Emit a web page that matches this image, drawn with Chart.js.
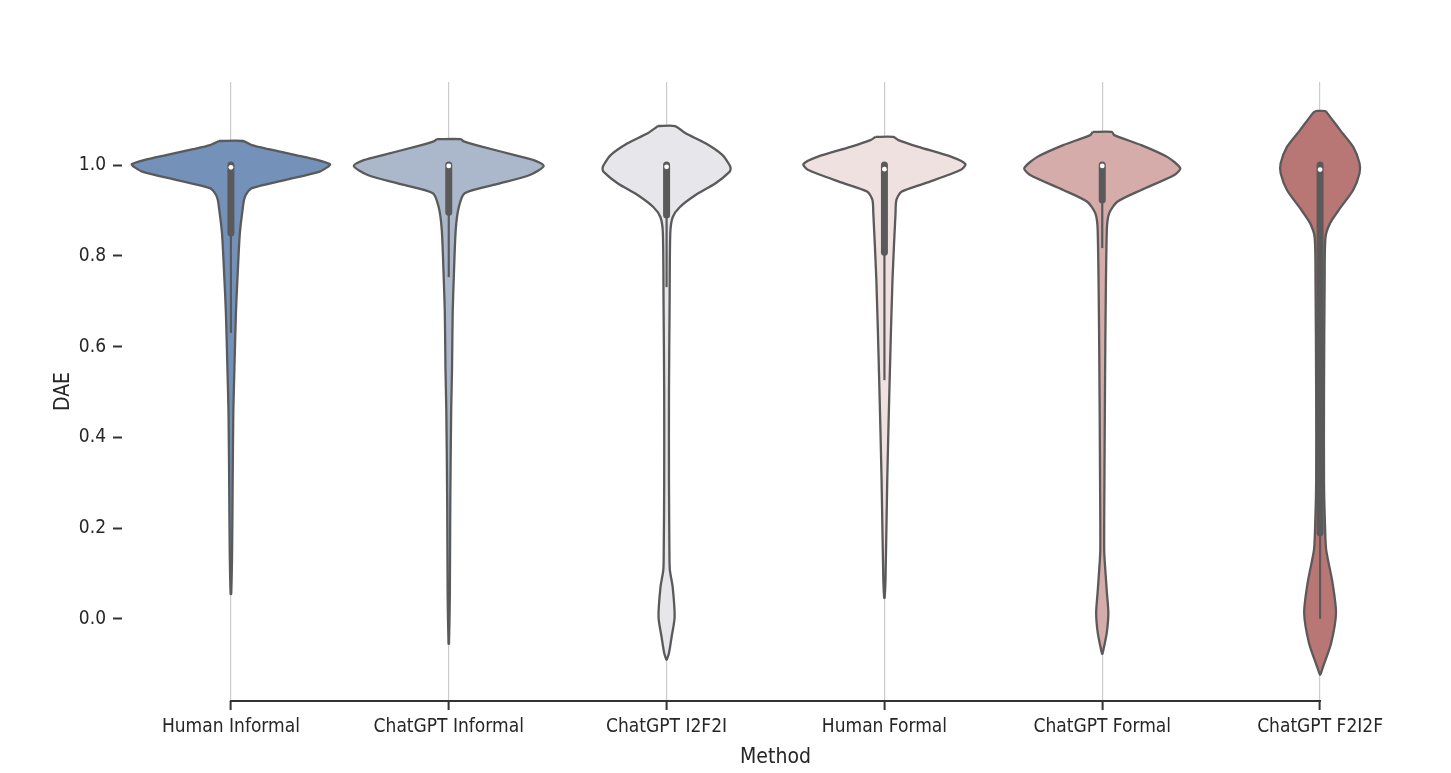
<!DOCTYPE html>
<html>
<head>
<meta charset="utf-8">
<script src="https://cdn.jsdelivr.net/npm/chart.js@4.4.1/dist/chart.umd.min.js"></script>
<style>
  html, body { margin: 0; padding: 0; background: #ffffff; }
  #wrap { width: 1451px; height: 773px; position: relative; }
</style>
</head>
<body>
<div id="wrap"><canvas id="violins"></canvas></div>
<script>
// categories (one violin each)
var categories = ['Human Informal', 'ChatGPT Informal', 'ChatGPT I2F2I', 'Human Formal', 'ChatGPT Formal', 'ChatGPT F2I2F'];
var yTicks = [0.0, 0.2, 0.4, 0.6, 0.8, 1.0];

// violin outlines: DAE value and half width (in category units), top to bottom
var humanInfVals   = [1.053, 1.044, 1.035, 1.022, 1.011, 1.002, 0.996, 0.985, 0.967, 0.949, 0.935, 0.923, 0.907, 0.85, 0.75, 0.674, 0.55, 0.454, 0.3, 0.15, 0.055];
var humanInfWidths = [0.055, 0.096, 0.174, 0.298, 0.399, 0.455, 0.445, 0.404, 0.248, 0.096, 0.069, 0.060, 0.055, 0.041, 0.030, 0.023, 0.016, 0.011, 0.008, 0.0055, 0.0014];

var gptInfVals   = [1.057, 1.052, 1.040, 1.022, 1.011, 0.998, 0.978, 0.958, 0.938, 0.907, 0.857, 0.75, 0.674, 0.55, 0.454, 0.25, 0.05, -0.055];
var gptInfWidths = [0.055, 0.069, 0.156, 0.303, 0.390, 0.436, 0.372, 0.220, 0.073, 0.046, 0.032, 0.023, 0.018, 0.015, 0.011, 0.007, 0.005, 0.001];

var gptI2F2IVals   = [1.086, 1.070, 1.048, 1.022, 1.0, 0.993, 0.985, 0.960, 0.934, 0.907, 0.885, 0.85, 0.7, 0.5, 0.3, 0.15, 0.108, 0.07, 0.004, -0.04, -0.075, -0.09];
var gptI2F2IWidths = [0.039, 0.087, 0.179, 0.257, 0.289, 0.294, 0.289, 0.225, 0.133, 0.060, 0.028, 0.017, 0.014, 0.011, 0.011, 0.013, 0.015, 0.028, 0.037, 0.023, 0.011, 0.001];

var humanFormVals   = [1.062, 1.055, 1.04, 1.018, 1.002, 0.989, 0.960, 0.941, 0.923, 0.894, 0.747, 0.526, 0.306, 0.086, 0.046];
var humanFormWidths = [0.041, 0.064, 0.156, 0.308, 0.372, 0.349, 0.188, 0.078, 0.055, 0.051, 0.037, 0.024, 0.013, 0.005, 0.001];

var gptFormVals   = [1.073, 1.066, 1.044, 1.018, 0.993, 0.978, 0.945, 0.919, 0.894, 0.857, 0.6, 0.3, 0.15, 0.108, 0.06, 0.013, -0.03, -0.06, -0.077];
var gptFormWidths = [0.044, 0.055, 0.179, 0.298, 0.358, 0.331, 0.179, 0.069, 0.032, 0.021, 0.014, 0.010, 0.009, 0.014, 0.021, 0.028, 0.021, 0.009, 0.001];

var gptF2I2FVals   = [1.119, 1.115, 1.077, 1.040, 1.004, 0.982, 0.945, 0.905, 0.872, 0.841, 0.75, 0.5, 0.3, 0.2, 0.152, 0.08, 0.013, -0.053, -0.105, -0.123];
var gptF2I2FWidths = [0.023, 0.032, 0.092, 0.152, 0.181, 0.181, 0.152, 0.092, 0.046, 0.025, 0.021, 0.018, 0.018, 0.023, 0.028, 0.057, 0.073, 0.051, 0.014, 0.001];

// inner box plot stats
var q1Values      = [0.85, 0.896, 0.89, 0.808, 0.923, 0.19];
var q3Values      = [1.0, 1.0, 1.0, 1.0, 1.0, 1.0];
var medianValues  = [0.995, 0.998, 0.996, 0.991, 0.998, 0.99];
var whiskerLow    = [0.63, 0.753, 0.731, 0.526, 0.817, 0.0];
var whiskerHigh   = [1.0, 1.0, 1.0, 1.0, 1.0, 1.0];

var fillColors = ['#7391b9', '#abb8cc', '#e6e6eb', '#f0e1e1', '#d5acaa', '#b87775'];
var edgeColor = '#5a5a5a';

var profiles = [
	[humanInfVals, humanInfWidths],
	[gptInfVals, gptInfWidths],
	[gptI2F2IVals, gptI2F2IWidths],
	[humanFormVals, humanFormWidths],
	[gptFormVals, gptFormWidths],
	[gptF2I2FVals, gptF2I2FWidths]
];

function violinPoints(idx, vals, widths) {
	var pts = [];
	for (var i = 0; i < vals.length; i++) pts.push({x: idx - widths[i], y: vals[i]});
	for (var j = vals.length - 1; j >= 0; j--) pts.push({x: idx + widths[j], y: vals[j]});
	pts.push({x: idx - widths[0], y: vals[0]});
	return pts;
}

var datasets = [];
profiles.forEach(function (p, i) {
	datasets.push({
		data: violinPoints(i, p[0], p[1]),
		showLine: true,
		fill: 'shape',
		backgroundColor: fillColors[i],
		borderColor: edgeColor,
		borderWidth: 2.3,
		tension: 0.25,
		pointRadius: 0,
		order: 3
	});
	datasets.push({
		data: [{x: i, y: whiskerLow[i]}, {x: i, y: whiskerHigh[i]}],
		showLine: true,
		borderColor: edgeColor,
		borderWidth: 2.2,
		pointRadius: 0,
		order: 2
	});
	datasets.push({
		data: [{x: i, y: q1Values[i]}, {x: i, y: q3Values[i]}],
		showLine: true,
		borderColor: edgeColor,
		borderWidth: 7,
		borderCapStyle: 'round',
		pointRadius: 0,
		order: 1
	});
});
datasets.push({
	data: medianValues.map(function (m, i) { return {x: i, y: m}; }),
	showLine: false,
	pointRadius: 2.4,
	pointBackgroundColor: '#ffffff',
	pointBorderWidth: 0,
	order: 0
});

// bottom spine trimmed to first/last category (seaborn despine trim look)
var trimmedSpine = {
	id: 'trimmedSpine',
	afterDraw: function (chart) {
		var xs = chart.scales.x, ctx = chart.ctx, yb = chart.chartArea.bottom;
		ctx.save();
		ctx.strokeStyle = '#333333';
		ctx.lineWidth = 2;
		ctx.beginPath();
		ctx.moveTo(xs.getPixelForValue(0) - 1, yb);
		ctx.lineTo(xs.getPixelForValue(categories.length - 1) + 1, yb);
		ctx.stroke();
		ctx.restore();
	}
};

Chart.defaults.font.family = "'DejaVu Sans Condensed', 'DejaVu Sans', sans-serif";
Chart.defaults.font.size = 19;
Chart.defaults.color = '#262626';

new Chart(document.getElementById('violins'), {
	type: 'scatter',
	data: { datasets: datasets },
	options: {
		responsive: true,
		maintainAspectRatio: false,
		animation: false,
		layout: { padding: { left: 0, top: 82, right: 22, bottom: 0 } },
		plugins: { legend: { display: false }, tooltip: { enabled: false } },
		scales: {
			x: {
				type: 'linear',
				min: -0.5,
				max: 5.5,
				afterBuildTicks: function (s) { s.ticks = categories.map(function (c, i) { return {value: i}; }); },
				afterFit: function (s) { s.height = 72; },
				ticks: {
					padding: 6,
					maxRotation: 0,
					callback: function (v) { return categories[v]; }
				},
				grid: { color: '#cccccc', lineWidth: 1.2, tickColor: '#333333', tickWidth: 2, tickLength: 9 },
				border: { display: false },
				title: { display: true, text: 'Method', font: { size: 21 }, padding: { top: 0, bottom: 3 } }
			},
			y: {
				type: 'linear',
				min: -0.181,
				max: 1.183,
				afterBuildTicks: function (s) { s.ticks = yTicks.map(function (v) { return {value: v}; }); },
				afterFit: function (s) { s.width = 122; },
				ticks: {
					padding: 7,
					callback: function (v) { return v.toFixed(1); }
				},
				grid: { drawOnChartArea: false, tickColor: '#333333', tickWidth: 2, tickLength: 9 },
				border: { display: false },
				title: { display: true, text: 'DAE', font: { size: 21 }, padding: { top: 51, bottom: 0 } }
			}
		}
	},
	plugins: [trimmedSpine]
});
</script>
</body>
</html>
